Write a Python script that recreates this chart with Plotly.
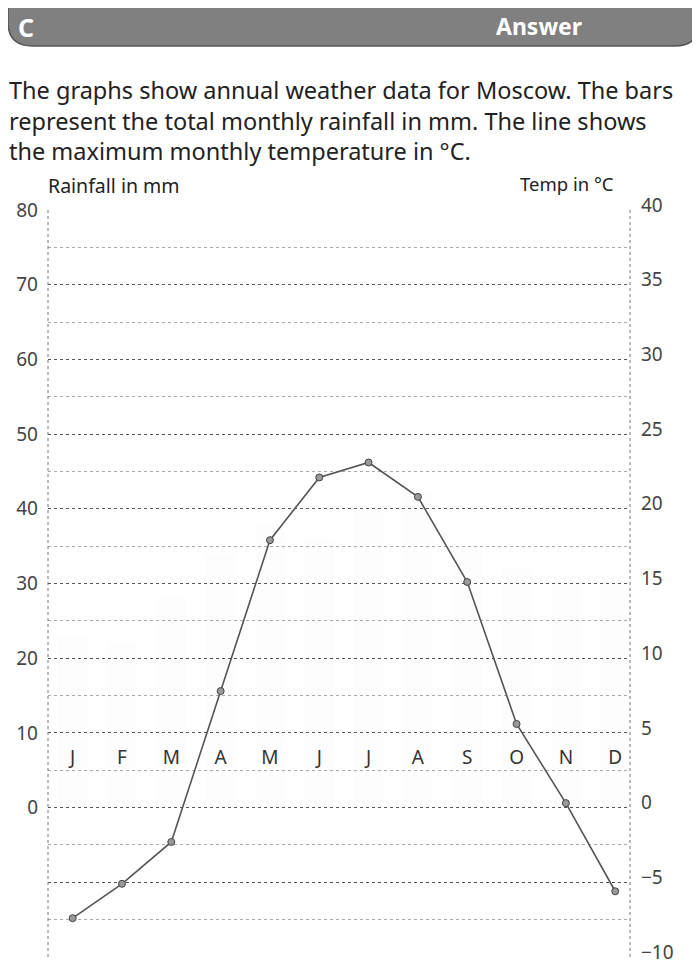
import plotly.graph_objects as go

months = ["J", "F", "M", "A", "M", "J", "J", "A", "S", "O", "N", "D"]
rainfall_mm = [23, 22, 28, 34, 38, 36, 40, 42, 35, 32, 30, 30]
max_temp_c = [-7.4, -5.1, -2.3, 7.8, 17.9, 22.1, 23.1, 20.8, 15.1, 5.6, 0.3, -5.6]
rain_ticks = [-20, -10, 0, 10, 20, 30, 40, 50, 60, 70, 80]
rain_ticktext = ["", "", "0", "10", "20", "30", "40", "50", "60", "70", "80"]
temp_ticks = [-10, -5, 0, 5, 10, 15, 20, 25, 30, 35, 40]
temp_ticktext = ["\u221210", "\u22125", "0", "5", "10", "15", "20", "25", "30", "35", "40"]

# the page body adds an 8px margin; work in screen pixels and subtract it
OFF = 8
W, H = 700 - OFF, 965 - OFF
L, R, T, B = 48 - OFF, 630 - OFF, 210 - OFF, 957 - OFF


def px(x):
    return (x - OFF - L) / (R - L)


def py(y):
    return (B - (y - OFF)) / (B - T)


FONT = "Noto Sans"
xs = list(range(len(months)))

fig = go.Figure()
fig.add_trace(go.Bar(x=xs, y=rainfall_mm, yaxis="y", marker=dict(color="rgba(0,0,0,0.006)", line=dict(width=0)),
                     width=0.6, showlegend=False, hoverinfo="y"))
fig.add_trace(go.Scatter(x=xs, y=[6.5] * len(months), yaxis="y", mode="text", text=months,
                         textfont=dict(family=FONT, size=19, color="#333"), showlegend=False, hoverinfo="skip"))
fig.add_trace(go.Scatter(x=xs, y=max_temp_c, yaxis="y2", mode="lines+markers",
                         line=dict(color="#555", width=1.6),
                         marker=dict(size=7, color="#999", line=dict(color="#444", width=1)),
                         showlegend=False))

# rounded header banner (screen pixels)
x0, x1, y0, y1, r = 8, 699, -12, 46, 24
path = (f"M {px(x0 + r)} {py(y0)} L {px(x1 - r)} {py(y0)} "
        f"Q {px(x1)} {py(y0)} {px(x1)} {py(y0 + r)} L {px(x1)} {py(y1 - r)} "
        f"Q {px(x1)} {py(y1)} {px(x1 - r)} {py(y1)} L {px(x0 + r)} {py(y1)} "
        f"Q {px(x0)} {py(y1)} {px(x0)} {py(y1 - r)} L {px(x0)} {py(y0 + r)} "
        f"Q {px(x0)} {py(y0)} {px(x0 + r)} {py(y0)} Z")
shapes = [dict(type="path", xref="paper", yref="paper", path=path,
               fillcolor="#808080", line=dict(color="#555", width=1.5), layer="above")]
# dotted frame sides
for xx in (0, 1):
    shapes.append(dict(type="line", xref="paper", yref="paper", x0=xx, x1=xx, y0=0, y1=1,
                       line=dict(color="#777", width=1, dash="dot")))

annotations = [
    dict(text="<b>C</b>", x=px(16), y=py(27), xref="paper", yref="paper", xanchor="left", yanchor="middle",
         showarrow=False, font=dict(family=FONT, size=25, color="white")),
    dict(text="<b>Answer</b>", x=px(494), y=py(26), xref="paper", yref="paper", xanchor="left", yanchor="middle",
         showarrow=False, font=dict(family=FONT, size=23, color="white")),
]
para = ["The graphs show annual weather data for Moscow. The bars",
        "represent the total monthly rainfall in mm. The line shows",
        "the maximum monthly temperature in \u00b0C."]
annotations.append(dict(text="<br>".join(para), x=px(7), y=py(120), xref="paper", yref="paper",
                        xanchor="left", yanchor="middle", align="left", showarrow=False,
                        font=dict(family=FONT, size=23.5, color="#222")))
annotations.append(dict(text="Rainfall in mm", x=px(46), y=py(185), xref="paper", yref="paper",
                        xanchor="left", yanchor="middle", showarrow=False,
                        font=dict(family=FONT, size=19.5, color="#222")))
annotations.append(dict(text="Temp in \u00b0C", x=px(518), y=py(183), xref="paper", yref="paper",
                        xanchor="left", yanchor="middle", showarrow=False,
                        font=dict(family=FONT, size=18.5, color="#222")))

fig.update_layout(
    width=W, height=H,
    margin=dict(l=L, r=W - R, t=T, b=H - B),
    paper_bgcolor="white", plot_bgcolor="white",
    shapes=shapes, annotations=annotations,
    bargap=0.4,
    xaxis=dict(range=[-0.5, 11.3], showticklabels=False, showgrid=False, zeroline=False, showline=False,
               fixedrange=True, automargin=False),
    yaxis=dict(range=[-20, 80], tickvals=rain_ticks, ticktext=rain_ticktext, automargin=False,
               tickfont=dict(family=FONT, size=19, color="#444"), ticklabelstandoff=9,
               showgrid=True, gridcolor="#555", griddash="dot", gridwidth=1,
               zeroline=False, showline=False,
               minor=dict(tick0=0, dtick=5, showgrid=True, gridcolor="#aaa", griddash="dot", gridwidth=1)),
    yaxis2=dict(range=[-10, 40], overlaying="y", side="right", tickvals=temp_ticks, ticktext=temp_ticktext,
                tickfont=dict(family=FONT, size=19, color="#444"), ticklabelstandoff=10, ticklabelshift=-5,
                ticklabeloverflow="allow",
                automargin=False, showgrid=False, zeroline=False, showline=False),
)

fig.write_html("out.html")
